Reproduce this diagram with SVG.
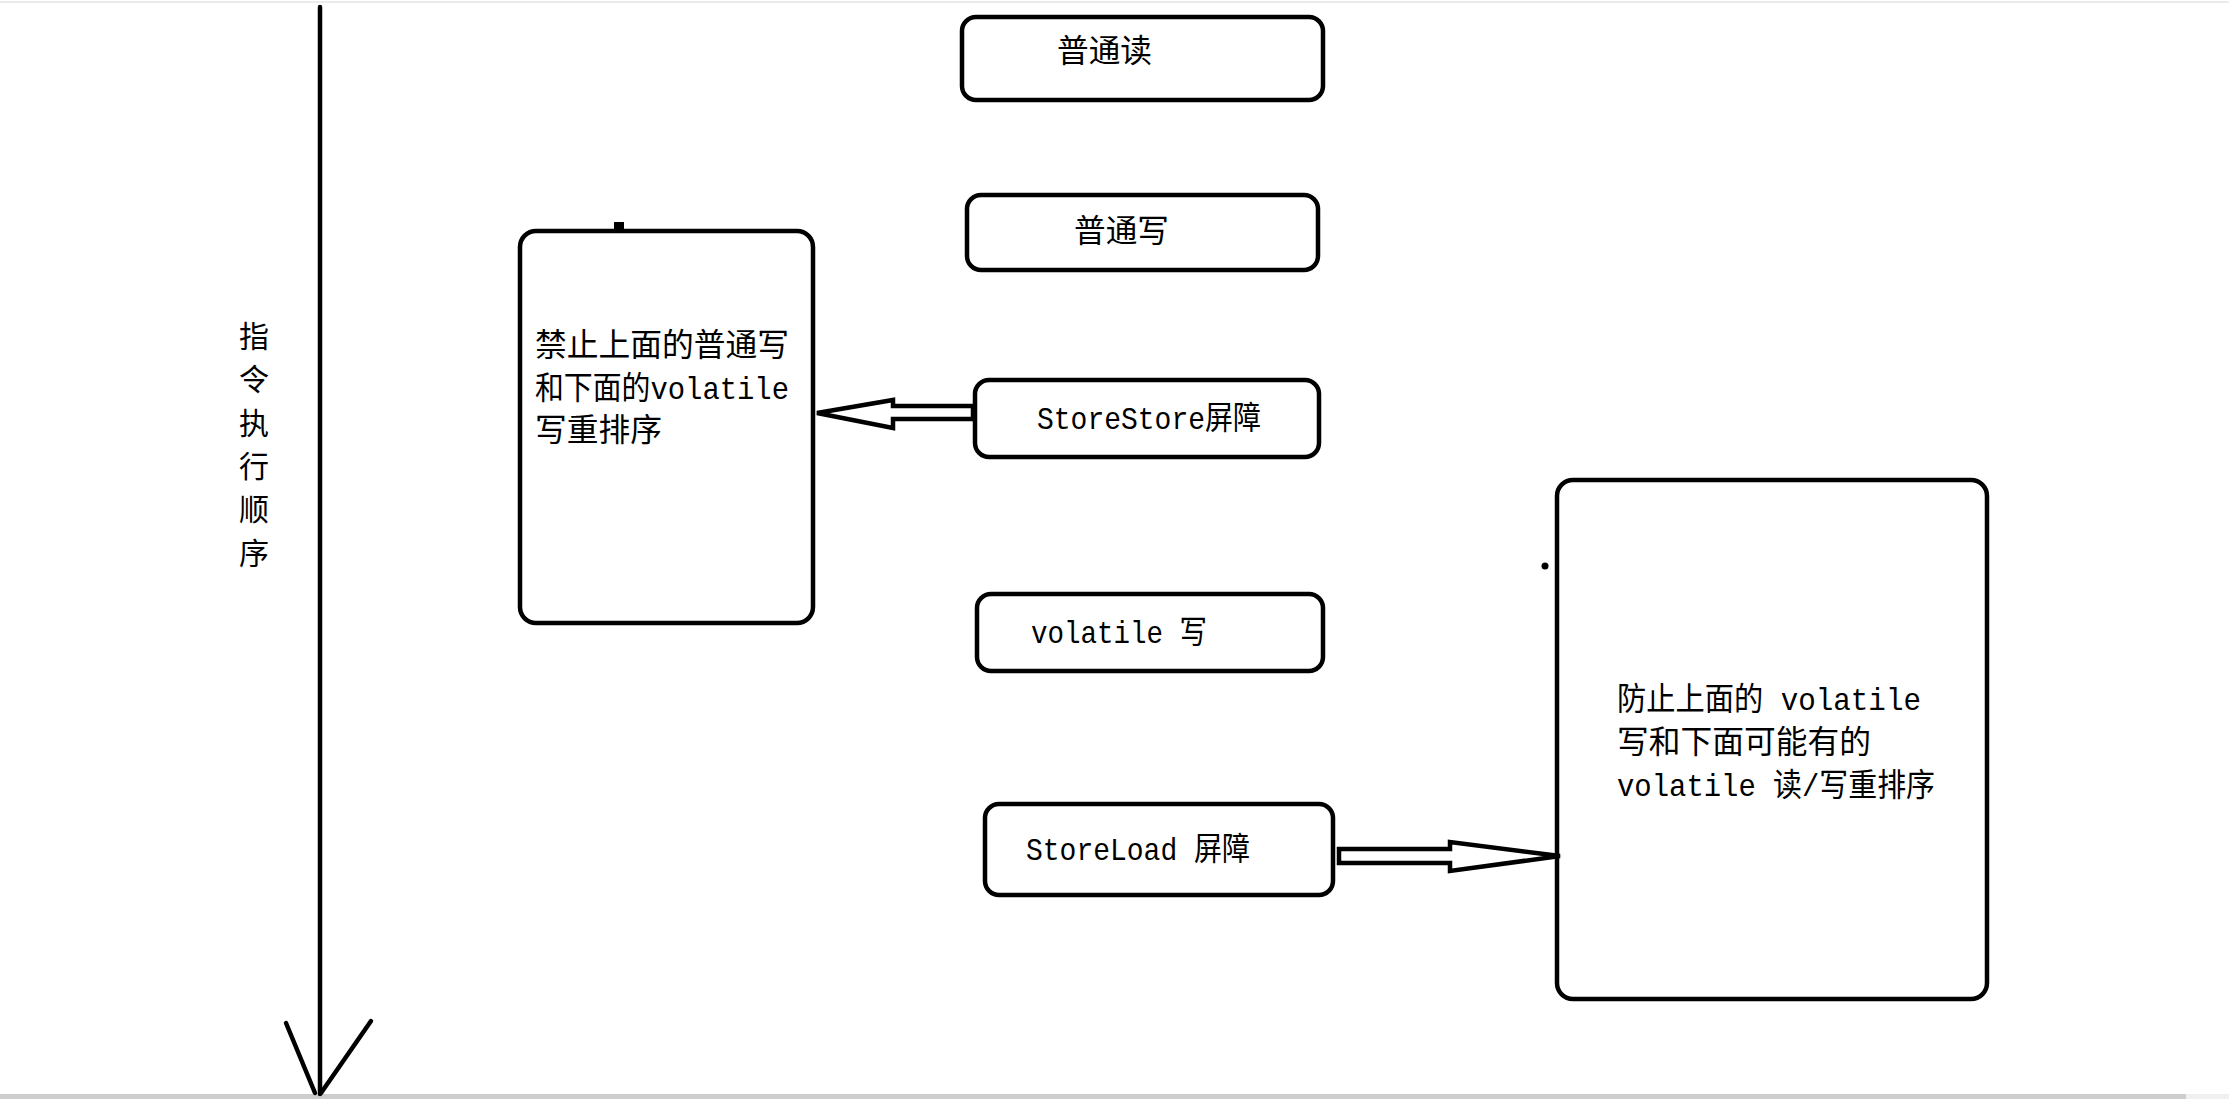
<svg xmlns="http://www.w3.org/2000/svg" width="2229" height="1099" viewBox="0 0 2229 1099">
<style>
.box{fill:#fff;stroke:#000;stroke-width:4.5}
.t{font-family:"Liberation Mono","Noto Sans CJK SC",monospace;font-size:32px;fill:#000}
.tv{font-family:"Noto Sans CJK SC",sans-serif;font-size:30px;fill:#000}
.ln{stroke:#000;stroke-width:4.5;fill:none;stroke-linecap:round}
.blk{fill:#fff;stroke:#000;stroke-width:4.5;stroke-linejoin:miter}
</style>
<rect x="0" y="0" width="2229" height="1099" fill="#fff"/>
<line x1="0" y1="2" x2="2229" y2="2" stroke="#ebebeb" stroke-width="2"/>
<rect x="0" y="1094" width="2186" height="5" fill="#cdcdcd"/>
<rect x="2186" y="1094" width="43" height="5" fill="#f0f0f0"/>

<g id="axis">
<line class="ln" x1="320" y1="7" x2="320" y2="1094" stroke-linecap="butt"/>
<line class="ln" x1="286" y1="1023" x2="315" y2="1093"/>
<line class="ln" x1="371" y1="1021" x2="321" y2="1093"/>
<text class="tv" x="239" y="347">指</text>
<text class="tv" x="239" y="390">令</text>
<text class="tv" x="239" y="434">执</text>
<text class="tv" x="239" y="477">行</text>
<text class="tv" x="239" y="520">顺</text>
<text class="tv" x="239" y="564">序</text>
</g>

<g id="n-read">
<rect class="box" x="962" y="17" width="361" height="83" rx="14"/>
<text class="t" x="1057" y="62" textLength="95" lengthAdjust="spacingAndGlyphs">普通读</text>
</g>

<g id="n-write">
<rect class="box" x="967" y="195" width="351" height="75" rx="14"/>
<text class="t" x="1074" y="242" textLength="95" lengthAdjust="spacingAndGlyphs">普通写</text>
</g>

<g id="n-storestore">
<rect class="box" x="975" y="380" width="344" height="77" rx="14"/>
<text class="t" x="1037" y="429" textLength="224" lengthAdjust="spacingAndGlyphs">StoreStore屏障</text>
</g>

<g id="n-vwrite">
<rect class="box" x="977" y="594" width="346" height="77" rx="14"/>
<text class="t" x="1031" y="643" textLength="176" lengthAdjust="spacingAndGlyphs">volatile 写</text>
</g>

<g id="n-storeload">
<rect class="box" x="985" y="804" width="348" height="91" rx="14"/>
<text class="t" x="1026" y="860" textLength="224" lengthAdjust="spacingAndGlyphs">StoreLoad 屏障</text>
</g>

<g id="n-note1">
<rect x="614" y="222" width="10" height="10" fill="#000"/>
<rect class="box" x="520" y="231" width="293" height="392" rx="16"/>
<text class="t" x="535" y="356" textLength="254" lengthAdjust="spacingAndGlyphs">禁止上面的普通写</text>
<text class="t" x="535" y="399" textLength="254" lengthAdjust="spacingAndGlyphs">和下面的volatile</text>
<text class="t" x="535" y="441" textLength="127" lengthAdjust="spacingAndGlyphs">写重排序</text>
</g>

<g id="n-note2">
<circle cx="1545" cy="566" r="3.5" fill="#000"/>
<rect class="box" x="1557" y="480" width="430" height="519" rx="16"/>
<text class="t" x="1617" y="710" textLength="304" lengthAdjust="spacingAndGlyphs">防止上面的 volatile</text>
<text class="t" x="1617" y="753" textLength="254" lengthAdjust="spacingAndGlyphs">写和下面可能有的</text>
<text class="t" x="1617" y="796" textLength="318" lengthAdjust="spacingAndGlyphs">volatile 读/写重排序</text>
</g>

<g id="connectors">
<polygon class="blk" points="817,413 893,400 893,406 973,406 973,419 893,419 893,428"/>
<polygon class="blk" points="1339,849 1450,849 1450,842 1560,856 1450,871 1450,863 1339,863"/>
</g>
</svg>
